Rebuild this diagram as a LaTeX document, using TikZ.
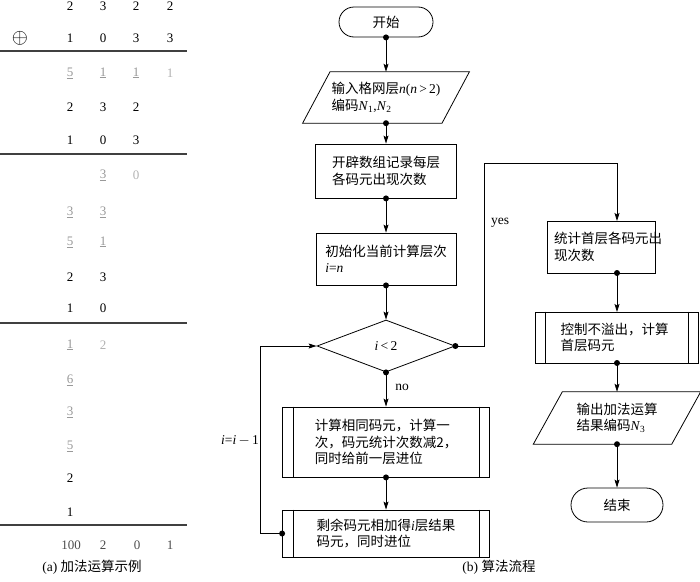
\documentclass[tikz,border=0pt]{standalone}
\usepackage{fontspec}
\setmainfont{Liberation Serif}
\newfontfamily\cjk{Noto Sans CJK SC}
\usetikzlibrary{shapes.geometric,arrows.meta,calc}
\begin{document}
\begin{tikzpicture}[x=1pt,y=-1pt,
  every node/.style={font=\fontsize{13.5}{16.5}\selectfont},
  num/.style={inner sep=0pt,font=\fontsize{13}{15}\selectfont},
  lt/.style={num,text=black!40},
  rule/.style={line width=1.1pt,draw=black!75},
  box/.style={draw,line width=0.8pt,align=left,inner sep=0pt},
  term/.style={draw,line width=0.8pt,rounded corners=#1,inner sep=0pt},
  ghost/.style={align=left,inner sep=0pt},
  con/.style={line width=0.8pt,-{Stealth[length=8pt,width=5pt,inset=1.5pt]}},
  line/.style={line width=0.8pt},
  lab/.style={inner sep=0pt}]
\useasboundingbox (0,0) rectangle (700,581);
% ---------------- (a) ----------------
\node[num] (a1) at (70,6) {2};
\node[num] (a2) at (103,6) {3};
\node[num] (a3) at (136,6) {2};
\node[num] (a4) at (170,6) {2};
\node[inner sep=0pt,font=\fontsize{21}{21}\selectfont] (op) at (20,38) {$\oplus$};
\node[num] (b1) at (70,38) {1};
\node[num] (b2) at (103,38) {0};
\node[num] (b3) at (136,38) {3};
\node[num] (b4) at (170,38) {3};
\draw[rule] (0,51) -- (187,51);
\node[lt] (c1) at (70,73) {\underline{5}};
\node[lt] (c2) at (103,73) {\underline{1}};
\node[lt] (c3) at (136,73) {\underline{1}};
\node[lt,text=black!30] (c4) at (170,73) {1};
\node[num] (d1) at (70,107) {2};
\node[num] (d2) at (103,107) {3};
\node[num] (d3) at (136,107) {2};
\node[num] (e1) at (70,140) {1};
\node[num] (e2) at (103,140) {0};
\node[num] (e3) at (136,140) {3};
\draw[rule] (0,154) -- (187,154);
\node[lt] (f2) at (103,175) {\underline{3}};
\node[lt,text=black!30] (f3) at (136,175) {0};
\node[lt] (g1) at (70,212) {\underline{3}};
\node[lt] (g2) at (103,212) {\underline{3}};
\node[lt] (h1) at (70,242) {\underline{5}};
\node[lt] (h2) at (103,242) {\underline{1}};
\node[num] (i1) at (70,277) {2};
\node[num] (i2) at (103,277) {3};
\node[num] (j1) at (70,308) {1};
\node[num] (j2) at (103,308) {0};
\draw[rule] (0,323) -- (187,323);
\node[lt] (k1) at (70,345) {\underline{1}};
\node[lt,text=black!30] (k2) at (103,345) {2};
\node[lt] (l1) at (70,380) {\underline{6}};
\node[lt] (m1) at (70,412) {\underline{3}};
\node[lt] (n1) at (70,446) {\underline{5}};
\node[num] (o1) at (70,478) {2};
\node[num] (p1) at (70,512) {1};
\draw[rule] (0,525) -- (187,525);
\node[num,text=black!70] (q1) at (71,545) {100};
\node[num,text=black!70] (q2) at (103,545) {2};
\node[num,text=black!70] (q3) at (137,545) {0};
\node[num,text=black!70] (q4) at (170,545) {1};
\node[lab] (capa) at (92,567) {(a) {\cjk 加法运算示例}};
% ---------------- (b) ----------------
\node[term=15pt,minimum width=94pt,minimum height=30pt] (start) at (386,22) {\cjk 开始};
\node[ghost,minimum width=139pt,minimum height=51pt] (in1) at (386,97.5)
  {{\cjk 输入格网层}\textit{n}(\textit{n}\,>\,2)\\{\cjk 编码}\textit{N}\textsubscript{1},\textit{N}\textsubscript{2}};
\draw[line] ($(in1.north west)+(13.7,0)$) -- ($(in1.north east)+(13.7,0)$)
  -- ($(in1.south east)+(-13.7,0)$) -- ($(in1.south west)+(-13.7,0)$) -- cycle;
\node[box,minimum width=141pt,minimum height=54pt] (r1) at (386,171)
  {\cjk 开辟数组记录每层\\\cjk 各码元出现次数};
\node[box,minimum width=140pt,minimum height=52pt] (r2) at (386,259)
  {{\cjk 初始化当前计算层次}\\\textit{i}=\textit{n}};
\node[draw,line width=0.8pt,diamond,inner sep=0pt,minimum width=138pt,minimum height=52pt] (dia) at (386,346)
  {\textit{i}\,<\,2};
\node[box,minimum width=207pt,minimum height=70pt] (r3) at (386,442)
  {\cjk 计算相同码元，计算一\\\cjk 次，码元统计次数减2，\\\cjk 同时给前一层进位};
\draw[line] ($(r3.north west)+(11,0)$) -- ($(r3.south west)+(11,0)$);
\draw[line] ($(r3.north east)+(-11,0)$) -- ($(r3.south east)+(-11,0)$);
\node[box,minimum width=207pt,minimum height=47pt] (r4) at (386,533.5)
  {{\cjk 剩余码元相加得}\textit{i}{\cjk 层结果}\\\cjk 码元，同时进位};
\draw[line] ($(r4.north west)+(11,0)$) -- ($(r4.south west)+(11,0)$);
\draw[line] ($(r4.north east)+(-11,0)$) -- ($(r4.south east)+(-11,0)$);
\node[box,minimum width=108pt,minimum height=52pt,text width=94pt] (y1) at (601,247)
  {\cjk 统计首层各码元出\\\cjk 现次数};
\node[box,minimum width=163pt,minimum height=51pt,text width=112pt] (y2) at (616.5,337.5)
  {\cjk 控制不溢出，计算\\\cjk 首层码元};
\draw[line] ($(y2.north west)+(11,0)$) -- ($(y2.south west)+(11,0)$);
\draw[line] ($(y2.north east)+(-10,0)$) -- ($(y2.south east)+(-10,0)$);
\node[ghost,minimum width=138pt,minimum height=52pt] (out) at (617,418)
  {{\cjk 输出加法运算}\\{\cjk 结果编码}\textit{N}\textsubscript{3}};
\draw[line] ($(out.north west)+(14.5,0)$) -- ($(out.north east)+(14.5,0)$)
  -- ($(out.south east)+(-14.5,0)$) -- ($(out.south west)+(-14.5,0)$) -- cycle;
\node[term=17pt,minimum width=92pt,minimum height=34pt] (end) at (617,505) {\cjk 结束};
% connectors
\draw[con] (start.south) -- (in1.north);
\draw[con] (in1.south) -- (r1.north);
\draw[con] (r1.south) -- (r2.north);
\draw[con] (r2.south) -- (dia.north);
\draw[con] (dia.south) -- (r3.north);
\draw[con] (r3.south) -- (r4.north);
\coordinate (lp1) at (260,533.5);
\coordinate (lp2) at (260,346);
\draw[con] (r4.west) -- (lp1) -- (lp2) -- (dia.west);
\coordinate (yp1) at (484,346);
\coordinate (yp2) at (484,163);
\coordinate (yp3) at (617,163);
\coordinate (yp4) at (617,221);
\draw[con] (dia.east) -- (yp1) -- (yp2) -- (yp3) -- (yp4);
\coordinate (yb) at (617,273);
\coordinate (y2t) at (617,312);
\draw[con] (yb) -- (y2t);
\coordinate (y2b) at (617,363);
\draw[con] (y2b) -- (out.north);
\draw[con] (out.south) -- (end.north);
% dots
\foreach \p in {start.south,in1.south,r1.south,r2.south,dia.south,dia.east,r3.south,r4.west,yb,y2b,out.south}
  \fill (\p) circle (3pt);
% labels
\node[lab] (no) at (402,387) {no};
\node[lab] (yes) at (500,223) {yes};
\node[lab] (dec) at (240,441) {\textit{i}=\textit{i}\,$-$\,1};
\node[lab] (capb) at (499,567) {(b) {\cjk 算法流程}};
\end{tikzpicture}
\end{document}
